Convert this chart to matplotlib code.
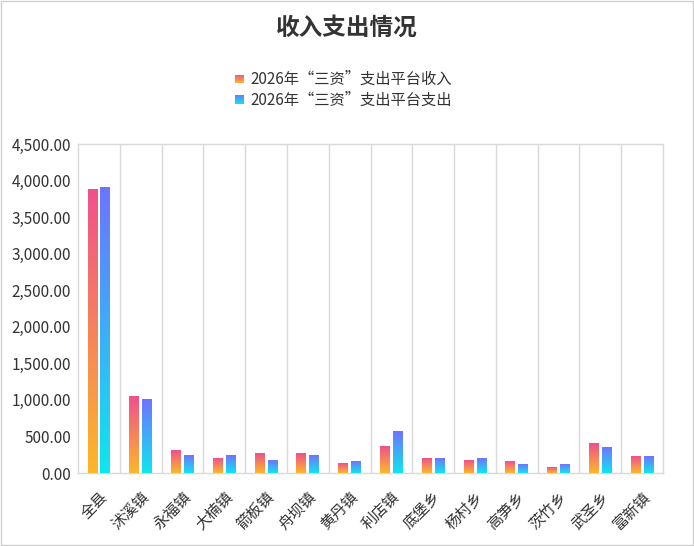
import numpy as np
import matplotlib
matplotlib.use('Agg')
import matplotlib.pyplot as plt
from matplotlib.colors import LinearSegmentedColormap
from matplotlib.patches import Rectangle

plt.rcParams['font.family'] = ['Noto Sans CJK SC', 'DejaVu Sans']

# ---- data ----
towns = ['全县', '沭溪镇', '永福镇', '大楠镇', '箭板镇', '舟坝镇', '黄丹镇', '利店镇',
         '底堡乡', '杨村乡', '高笋乡', '茨竹乡', '武圣乡', '富新镇']
income = [3880, 1048, 305, 196, 264, 264, 127, 360, 196, 168, 155, 73, 401, 223]
expense = [3910, 1003, 237, 237, 168, 237, 155, 565, 205, 196, 114, 114, 346, 223]
series_names = ['2026年“三资”支出平台收入', '2026年“三资”支出平台支出']
yticks = np.arange(0, 4501, 500)

# gradient colours: bottom -> top
cmap_in = LinearSegmentedColormap.from_list('inc', ['#fbb82a', '#f0508d'])
cmap_out = LinearSegmentedColormap.from_list('exp', ['#0fe6ef', '#6e74ff'])
grad = np.linspace(0, 1, 256).reshape(-1, 1)

fig = plt.figure(figsize=(6.94, 5.46), dpi=100)
ax = fig.add_axes([78 / 694, 73 / 546, 585 / 694, 329 / 546])

x = np.arange(len(towns))
w = 0.235
off = 0.155

# bars with a vertical gradient fill
for vals, cmap, sign in [(income, cmap_in, -1), (expense, cmap_out, 1)]:
    bars = ax.bar(x + sign * off, vals, width=w, color='none', edgecolor='none')
    for b in bars:
        x0 = b.get_x()
        ax.imshow(grad, extent=[x0, x0 + b.get_width(), 0, b.get_height()],
                  aspect='auto', cmap=cmap, origin='lower', zorder=3)

ax.set_xlim(-0.5, len(towns) - 0.5)
ax.set_ylim(0, 4500)
ax.set_yticks(yticks)
ax.set_yticklabels([f'{v:,.2f}' for v in yticks], fontsize=11, color='#333333')
ax.set_xticks(x)
ax.set_xticklabels(towns, rotation=45, ha='right', rotation_mode='anchor',
                   fontsize=11, color='#333333')
ax.set_xticks(np.arange(0.5, len(towns) - 0.5), minor=True)
ax.grid(True, which='minor', axis='x', color='#d9d9d9', linewidth=1)
ax.tick_params(which='both', length=0)
ax.tick_params(axis='x', pad=11)
ax.tick_params(axis='y', pad=5)
for s in ax.spines.values():
    s.set_color('#d9d9d9')
    s.set_linewidth(1)
ax.set_axisbelow(True)

# title
fig.text(0.5, 1 - 28 / 546, '收入支出情况', ha='center', va='center',
         fontsize=17, fontweight='bold', color='#333333')

# legend (gradient squares + labels)
for i, (name, cmap) in enumerate(zip(series_names, [cmap_in, cmap_out])):
    yc = 79 + i * 21
    lax = fig.add_axes([235 / 694, 1 - (yc + 4.5) / 546, 9 / 694, 9 / 546])
    lax.imshow(grad, aspect='auto', cmap=cmap, origin='lower')
    lax.axis('off')
    fig.text(250 / 694, 1 - yc / 546, name, ha='left', va='center',
             fontsize=11, color='#333333')

# outer border
fig.patches.append(Rectangle((0.001, 0.001), 0.997, 0.997, transform=fig.transFigure,
                             fill=False, edgecolor='#d0d0d0', linewidth=1))

fig.savefig('out.png', dpi=100)
